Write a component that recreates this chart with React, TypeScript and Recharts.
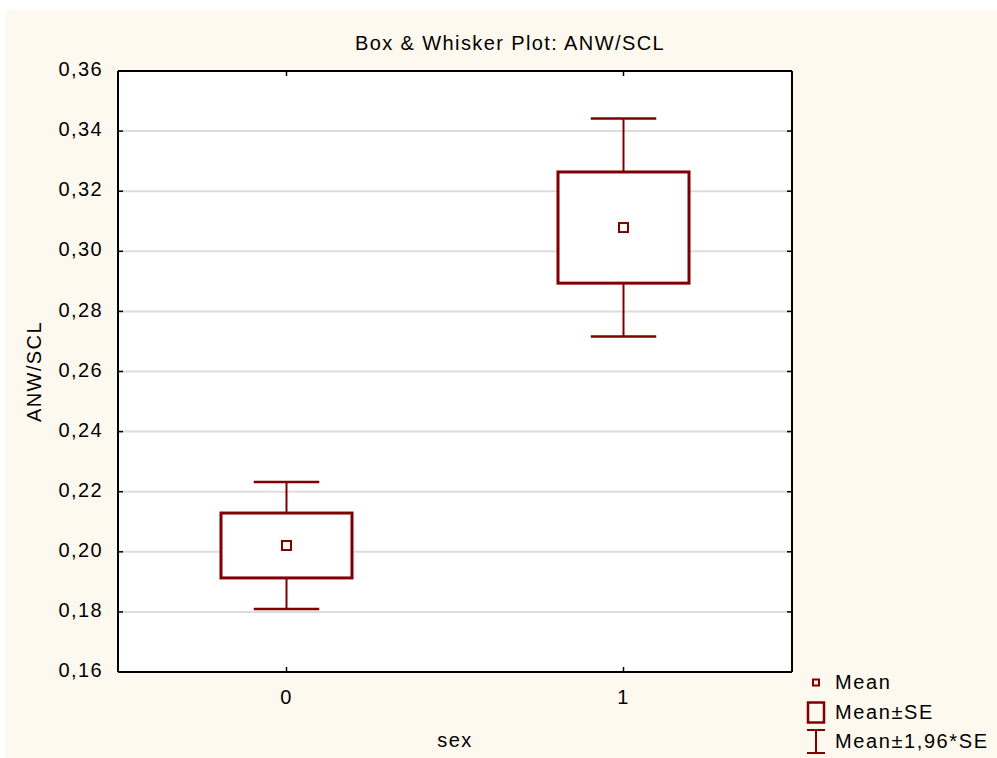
import React from "react"
import { ComposedChart, Bar, XAxis, YAxis, CartesianGrid, Legend } from "recharts"

// values
const categories = ["0", "1"]
const means = [0.2021, 0.3079]
const standardErrors = [0.0108, 0.0185]
const yTicks = [0.16, 0.18, 0.2, 0.22, 0.24, 0.26, 0.28, 0.3, 0.32, 0.34, 0.36]
const legendLabels = ["Mean", "Mean±SE", "Mean±1,96*SE"]

const RED = "#800000"
const FONT = 'Arial, "Liberation Sans", sans-serif'

const data = categories.map((sex, i) => {
    const m = means[i]
    const se = standardErrors[i]
    return { sex, mean: m, se, whisker: [m - 1.96 * se, m + 1.96 * se] }
})

const fmt = (v: number) => v.toFixed(2).replace(".", ",")

function BoxShape(props: any) {
    const { x, y, width, height, payload } = props
    const [lo, hi] = payload.whisker
    const ppu = height / (hi - lo)
    const toY = (v: number) => y + (hi - v) * ppu
    const cx = x + width / 2
    const cap = width / 4
    const boxTop = toY(payload.mean + payload.se)
    const boxBottom = toY(payload.mean - payload.se)
    const meanY = toY(payload.mean)
    return (
        <g>
            <line x1={cx} x2={cx} y1={y} y2={y + height} stroke={RED} strokeWidth={2} />
            <line x1={cx - cap} x2={cx + cap} y1={y} y2={y} stroke={RED} strokeWidth={2.5} />
            <line x1={cx - cap} x2={cx + cap} y1={y + height} y2={y + height} stroke={RED} strokeWidth={2.5} />
            <rect x={x} y={boxTop} width={width} height={boxBottom - boxTop} fill="#fff" stroke={RED} strokeWidth={3} />
            <rect x={cx - 4.5} y={meanY - 4.5} width={9} height={9} fill="#fff" stroke={RED} strokeWidth={2} />
        </g>
    )
}

function LegendIcon({ index }: { index: number }) {
    if (index === 0) {
        return <rect x={8} y={11.5} width={6} height={6} fill="none" stroke={RED} strokeWidth={2} />
    }
    if (index === 1) {
        return <rect x={3} y={4.5} width={16} height={20} fill="none" stroke={RED} strokeWidth={2.5} />
    }
    return (
        <g stroke={RED} strokeWidth={2}>
            <line x1={11} x2={11} y1={3} y2={26} />
            <line x1={2} x2={20} y1={3} y2={3} />
            <line x1={2} x2={20} y1={26} y2={26} />
        </g>
    )
}

function LegendContent() {
    return (
        <div style={{ fontFamily: FONT, fontSize: 20, letterSpacing: "1.6px", color: "#000" }}>
            {legendLabels.map((label, i) => (
                <div key={label} style={{ display: "flex", alignItems: "center", height: 29.5 }}>
                    <svg width={22} height={29.5} style={{ marginRight: 8 }}>
                        <LegendIcon index={i} />
                    </svg>
                    <span>{label}</span>
                </div>
            ))}
        </div>
    )
}

export default function App() {
    const axisLine = { stroke: "#000", strokeWidth: 2 }
    const tickLine = { stroke: "#000", strokeWidth: 1.5 }
    return (
        <div
            style={{
                position: "absolute",
                left: 0,
                top: 0,
                width: 997,
                height: 758,
                background: "#fff",
                fontFamily: FONT,
                letterSpacing: "1.4px"
            }}
        >
            <div style={{ position: "absolute", left: 6, top: 10, width: 991, height: 748, background: "#FEF9EF" }} />
            <div style={{ position: "absolute", left: 0, top: 0 }}>
                <ComposedChart
                    width={997}
                    height={758}
                    data={data}
                    margin={{ top: 70, right: 204, bottom: 46, left: 18 }}
                >
                    <CartesianGrid vertical={false} stroke="#dcdcdc" strokeWidth={2} fill="#fff" />
                    <XAxis
                        dataKey="sex"
                        height={40}
                        tickSize={-5}
                        tickMargin={23}
                        axisLine={axisLine}
                        tickLine={tickLine}
                        tick={{ fill: "#000", fontSize: 20 }}
                        label={{ value: "sex", position: "bottom", offset: 21, fill: "#000", fontSize: 20 }}
                    />
                    <XAxis
                        xAxisId="top"
                        orientation="top"
                        dataKey="sex"
                        height={1}
                        tickSize={-5}
                        tickFormatter={() => ""}
                        axisLine={axisLine}
                        tickLine={tickLine}
                        label={{
                            value: "Box & Whisker Plot: ANW/SCL",
                            position: "top",
                            offset: 20,
                            dx: 55,
                            fill: "#000",
                            fontSize: 20
                        }}
                    />
                    <YAxis
                        width={100}
                        domain={[0.16, 0.36]}
                        ticks={yTicks}
                        allowDataOverflow
                        tickSize={-5}
                        tickMargin={20}
                        tickFormatter={fmt}
                        axisLine={axisLine}
                        tickLine={tickLine}
                        tick={{ fill: "#000", fontSize: 20, dy: -2 }}
                        label={{ value: "ANW/SCL", angle: -90, position: "center", dx: -34, fill: "#000", fontSize: 20 }}
                    />
                    <YAxis
                        yAxisId="right"
                        orientation="right"
                        width={1}
                        domain={[0.16, 0.36]}
                        ticks={yTicks}
                        allowDataOverflow
                        tickSize={-5}
                        tickFormatter={() => ""}
                        axisLine={axisLine}
                        tickLine={tickLine}
                    />
                    <Bar dataKey="whisker" barSize={131} shape={BoxShape} isAnimationActive={false} />
                    <Legend
                        layout="horizontal"
                        verticalAlign="middle"
                        align="center"
                        content={<LegendContent />}
                        wrapperStyle={{ left: 805, top: 668, width: 190, height: 90 }}
                    />
                </ComposedChart>
            </div>
        </div>
    )
}
